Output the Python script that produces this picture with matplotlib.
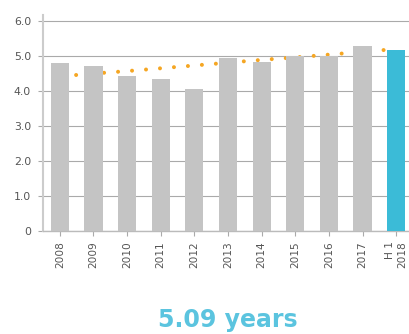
import matplotlib
matplotlib.use("Agg")
import matplotlib.pyplot as plt
import numpy as np

categories = ["2008", "2009", "2010", "2011", "2012", "2013", "2014",
              "2015", "2016", "2017", "H 1\n2018"]
values = [4.81, 4.72, 4.43, 4.35, 4.06, 4.93, 4.84, 5.00, 5.01, 5.29, 5.17]
trend = [4.42, 4.50, 4.57, 4.65, 4.73, 4.81, 4.89, 4.96, 5.04, 5.12, 5.20]
yticks = [0, 1, 2, 3, 4, 5, 6]
yticklabels = ["0", "1.0", "2.0", "3.0", "4.0", "5.0", "6.0"]
title_text = "5.09 years"

W, H = 409, 334
fig = plt.figure(figsize=(W / 100, H / 100), dpi=100)
ax = fig.add_axes([43 / W, 102.7 / H, 370 / W, 216.3 / H])

x = np.arange(len(categories))
colors = ["#c4c4c4"] * (len(categories) - 1) + ["#3bbbd7"]
ax.bar(x, values, width=0.54, color=colors, zorder=3)

lw = 2.9
ax.plot(x, trend, color="#f5a623", linewidth=lw,
        linestyle=(2.9, (0.001, 3.48)), dash_capstyle="round", zorder=2)

ax.set_xlim(-0.5, len(categories) - 0.5)
ax.set_ylim(0, 6.17)
ax.set_yticks(yticks)
ax.set_yticklabels(yticklabels)
ax.set_xticks(x)
ax.set_xticklabels(categories, rotation=90, ha="center", va="top",
                   multialignment="right")

ax.yaxis.grid(True, color="#aaaaaa", linewidth=0.8, zorder=0)
ax.set_axisbelow(True)

for s in ["top", "right"]:
    ax.spines[s].set_visible(False)
ax.spines["left"].set_color("#cccccc")
ax.spines["left"].set_linewidth(1.5)
ax.spines["bottom"].set_color("#bbbbbb")
ax.spines["bottom"].set_linewidth(1.0)

ax.tick_params(axis="y", length=3.6, width=0.8, color="#aaaaaa",
               labelsize=7.8, labelcolor="#555555", pad=5)
ax.tick_params(axis="x", length=3.6, width=0.8, color="#aaaaaa",
               labelsize=7.6, labelcolor="#555555", pad=3.5)

fig.text(228 / W, 7.3 / H, title_text, ha="center", va="baseline",
         fontsize=17, fontweight="bold", color="#5bc4df",
         family="DejaVu Sans")

fig.savefig("out.png", dpi=100)
